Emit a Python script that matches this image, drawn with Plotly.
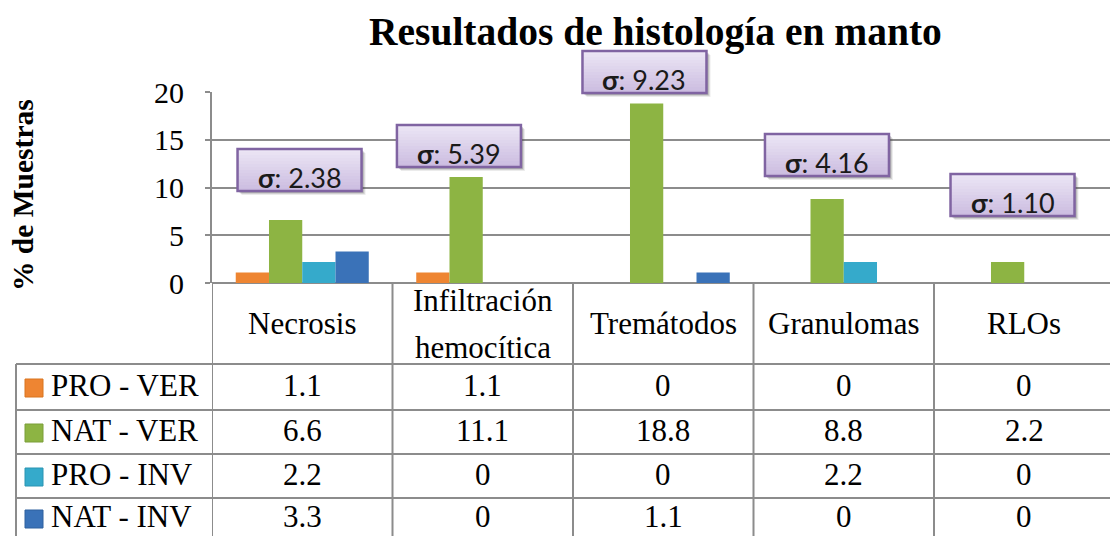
import numpy as np
import plotly.graph_objects as go

# ---- data ----
categories = ["Necrosis", "Infiltración<br>hemocítica", "Tremátodos", "Granulomas", "RLOs"]
series_names = ["PRO - VER", "NAT - VER", "PRO - INV", "NAT - INV"]
pro_ver = [1.1, 1.1, 0, 0, 0]
nat_ver = [6.6, 11.1, 18.8, 8.8, 2.2]
pro_inv = [2.2, 0, 0, 2.2, 0]
nat_inv = [3.3, 0, 1.1, 0, 0]
y_ticks = [0, 5, 10, 15, 20]

series_values = [pro_ver, nat_ver, pro_inv, nat_inv]
colors = ["#EE8532", "#8DB443", "#35AACB", "#3A72B8"]
line_colors = ["#D9741F", "#7A9E38", "#2B94B2", "#2F609E"]

# sample standard deviation of the four groups in each category
sigmas = np.std(np.array(series_values), axis=0, ddof=1)

# ---- layout geometry (pixels) ----
W, H = 1110, 536
PL, PT, PB = 212, 92, 283
COL = 180.5
PW = W - PL
x_max = PW / COL - 0.5
grid_col = "#8C8C8C"
serif = "Liberation Serif, Times New Roman, serif"


def xp(px):
    """pixel column -> paper x"""
    return (px - PL) / PW


def yp(px):
    """pixel row -> paper y"""
    return (PB - px) / (PB - PT)


fig = go.Figure()
xs = list(range(len(categories)))
for name, vals, c in zip(series_names, series_values, colors):
    fig.add_trace(go.Bar(x=xs, y=vals, name=name,
                         marker=dict(color=c, line=dict(width=0)),
                         showlegend=False))

shapes = []
annotations = []

# data-table grid
row_lines = [364, 410, 454, 498, 543]
for i in range(len(categories) + 1):
    shapes.append(dict(type="line", xref="x", yref="paper", x0=i - 0.5, x1=i - 0.5,
                       y0=yp(PB), y1=yp(545), line=dict(color=grid_col, width=2)))
shapes.append(dict(type="line", xref="paper", yref="paper", x0=xp(16), x1=xp(16),
                   y0=yp(row_lines[0]), y1=yp(545), line=dict(color=grid_col, width=2)))
for r in row_lines:
    shapes.append(dict(type="line", xref="paper", yref="paper", x0=xp(16), x1=xp(W + 5),
                       y0=yp(r), y1=yp(r), line=dict(color=grid_col, width=2)))

# category headers
for i, cat in enumerate(categories):
    lines = cat.split("<br>")
    centers = [323] if len(lines) == 1 else [300, 347]
    for txt, cy in zip(lines, centers):
        annotations.append(dict(x=i, y=yp(cy), xref="x", yref="paper", text=txt, showarrow=False,
                                xanchor="center", yanchor="middle", borderpad=0,
                                font=dict(family=serif, size=31, color="black")))

# rows: legend key + values
row_centers = [385, 430, 474, 516]
for name, vals, c, lc, cy in zip(series_names, series_values, colors, line_colors, row_centers):
    shapes.append(dict(type="rect", xref="paper", yref="paper", x0=xp(25), x1=xp(43),
                       y0=yp(cy - 6), y1=yp(cy + 12), fillcolor=c, line=dict(color=lc, width=1)))
    annotations.append(dict(x=xp(50), y=yp(cy), xref="paper", yref="paper", text=name, showarrow=False,
                            xanchor="left", yanchor="middle", borderpad=0,
                            font=dict(family=serif, size=31, color="black")))
    for i, v in enumerate(vals):
        annotations.append(dict(x=i, y=yp(cy), xref="x", yref="paper", text=f"{v:g}", showarrow=False,
                                xanchor="center", yanchor="middle", borderpad=0,
                                font=dict(family=serif, size=31, color="black")))

# sigma call-out boxes (lavender gradient with a soft drop shadow)
sigma_dx = [-0.015, -0.132, -0.104, -0.093, -0.065]
sigma_bottom_px = [191, 167, 93, 176, 216]
BW, BH = 124, 42
top_rgb = np.array([237, 231, 246])
bot_rgb = np.array([203, 188, 224])
n_strips = 14
for i, (s, dx, bpx) in enumerate(zip(sigmas, sigma_dx, sigma_bottom_px)):
    xc = i + dx
    yb = yp(bpx)
    for off, alpha in [(4, 0.10), (3, 0.16), (2, 0.22)]:
        shapes.append(dict(type="rect", xref="x", yref="paper", xsizemode="pixel", ysizemode="pixel",
                           xanchor=xc, yanchor=yb, x0=-BW / 2 + off, x1=BW / 2 + off,
                           y0=-off, y1=BH - off,
                           fillcolor=f"rgba(60,60,60,{alpha})", line=dict(width=0), layer="above"))
    for k in range(n_strips):
        t = (k + 0.5) / n_strips
        rgb = (bot_rgb * (1 - t) + top_rgb * t).astype(int)
        shapes.append(dict(type="rect", xref="x", yref="paper", xsizemode="pixel", ysizemode="pixel",
                           xanchor=xc, yanchor=yb, x0=-BW / 2, x1=BW / 2,
                           y0=BH * k / n_strips, y1=BH * (k + 1) / n_strips + 0.5,
                           fillcolor=f"rgb({rgb[0]},{rgb[1]},{rgb[2]})", line=dict(width=0),
                           layer="above"))
    shapes.append(dict(type="rect", xref="x", yref="paper", xsizemode="pixel", ysizemode="pixel",
                       xanchor=xc, yanchor=yb, x0=-BW / 2, x1=BW / 2, y0=0, y1=BH,
                       line=dict(color="#8064A2", width=2.5), layer="above"))
    annotations.append(dict(x=xc, y=yb, xref="x", yref="paper",
                            text=f"<b>σ</b>: {s:.2f}", showarrow=False,
                            xanchor="center", yanchor="bottom", yshift=-4, borderpad=0,
                            font=dict(family="Lato, Carlito, Calibri, sans-serif", size=27,
                                      color="#1a1a1a")))

# title and axis title
annotations.append(dict(x=xp(655), y=yp(32), xref="paper", yref="paper",
                        text="<b>Resultados de histología en manto</b>", showarrow=False,
                        xanchor="center", yanchor="middle",
                        font=dict(family=serif, size=39.5, color="black")))
annotations.append(dict(x=xp(23), y=yp(195), xref="paper", yref="paper",
                        text="<b>% de Muestras</b>", showarrow=False, textangle=-90,
                        xanchor="center", yanchor="middle",
                        font=dict(family=serif, size=29.5, color="black")))

fig.update_layout(
    width=W, height=H,
    margin=dict(l=PL, r=0, t=PT, b=H - PB, pad=0),
    paper_bgcolor="white", plot_bgcolor="white",
    barmode="group", bargap=0.263, bargroupgap=0,
    shapes=shapes, annotations=annotations,
    xaxis=dict(range=[-0.5, x_max], showticklabels=False, showgrid=False, zeroline=False,
               showline=False, ticks=""),
    yaxis=dict(range=[0, 20], tickvals=y_ticks, showgrid=True, gridcolor=grid_col, gridwidth=2,
               zeroline=True, zerolinecolor=grid_col, zerolinewidth=2,
               showline=True, linecolor=grid_col, linewidth=2,
               ticks="outside", ticklen=5, tickwidth=2, tickcolor=grid_col,
               ticklabelstandoff=15,
               tickfont=dict(family=serif, size=30, color="black")),
)

fig.write_html("out.html")
